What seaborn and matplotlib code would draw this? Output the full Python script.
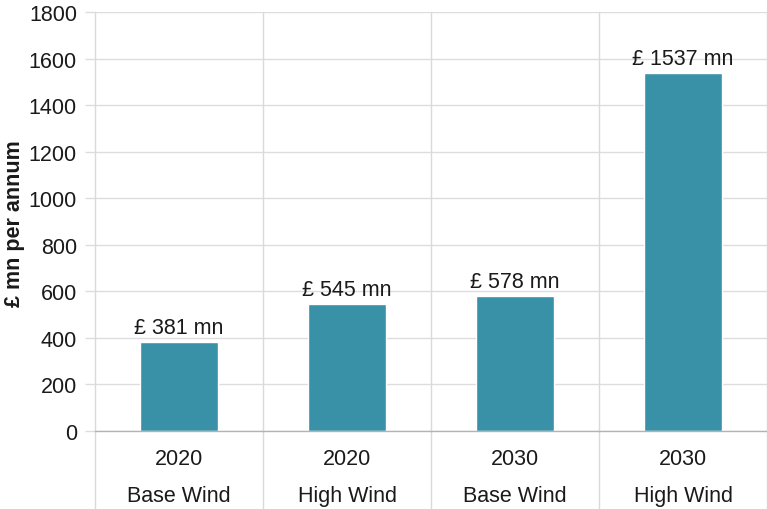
import matplotlib
matplotlib.use("Agg")
import matplotlib.pyplot as plt
import seaborn as sns
import pandas as pd
from matplotlib.lines import Line2D

years = ["2020", "2020", "2030", "2030"]
scenarios = ["Base Wind", "High Wind", "Base Wind", "High Wind"]
values = [381, 545, 578, 1537]
value_labels = ["£ 381 mn", "£ 545 mn", "£ 578 mn", "£ 1537 mn"]
y_ticks = [0, 200, 400, 600, 800, 1000, 1200, 1400, 1600, 1800]

sns.set_theme(style="white")
plt.rcParams['font.family'] = ['Liberation Sans', 'DejaVu Sans']

FS = 15.5
TXT = "#1a1a1a"

cats = [f"{y} {s}" for y, s in zip(years, scenarios)]
df = pd.DataFrame({"cat": cats, "value": values})

fig = plt.figure(figsize=(7.67, 5.10), dpi=100)
ax = fig.add_axes([95/767, 1-432/510, 672/767, (432-13)/510])

sns.barplot(data=df, x="cat", y="value", color="#3891A7", saturation=1,
            width=78/168, ax=ax, zorder=3)

ax.set_xlim(-0.5, len(cats)-0.5)
ax.set_ylim(0, 1800)
ax.set_yticks(y_ticks)
ax.set_yticklabels([str(t) for t in y_ticks], fontsize=FS, color=TXT)
ax.yaxis.grid(True, color="#dddddd", linewidth=1, zorder=0)
ax.tick_params(axis="y", length=7, width=1, color="#dddddd", pad=6, left=True)
ax.set_xticks(range(len(cats)))
ax.set_xticklabels([])
ax.tick_params(axis="x", length=0)

for s in ["top", "right", "left"]:
    ax.spines[s].set_visible(False)
ax.spines["bottom"].set_color("#b3b3b3")
ax.spines["bottom"].set_linewidth(1)
ax.spines["bottom"].set_zorder(4)

ax.set_xlabel("")
ax.set_ylabel("£ mn per annum", fontsize=FS, fontweight="bold", color=TXT,
              va="center")
ax.yaxis.set_label_coords((15 - 95) / 672, 0.5 + (221.5 - 222.5) / 419)

# two-level category labels
for i, (yr, sc) in enumerate(zip(years, scenarios)):
    ax.annotate(yr, (i, 0), xycoords=("data", "axes fraction"), xytext=(0, -28),
                textcoords="offset pixels", ha="center", va="center",
                fontsize=FS, color=TXT, annotation_clip=False)
    ax.annotate(sc, (i, 0), xycoords=("data", "axes fraction"), xytext=(0, -65),
                textcoords="offset pixels", ha="center", va="center",
                fontsize=FS, color=TXT, annotation_clip=False)

# category separators extending below the axis
bottom_frac = -(510-432)/419
for i in range(len(cats)+1):
    xpos = i - 0.5
    ln = Line2D([xpos, xpos], [1.0, bottom_frac], transform=ax.get_xaxis_transform(),
                color="#dadada", linewidth=1, clip_on=False, zorder=1)
    ax.add_line(ln)

for i, (v, t) in enumerate(zip(values, value_labels)):
    ax.annotate(t, (i, v), xytext=(0, 3), textcoords="offset points",
                ha="center", va="bottom", fontsize=FS, color=TXT, zorder=5)

fig.savefig("out.png", dpi=100)
